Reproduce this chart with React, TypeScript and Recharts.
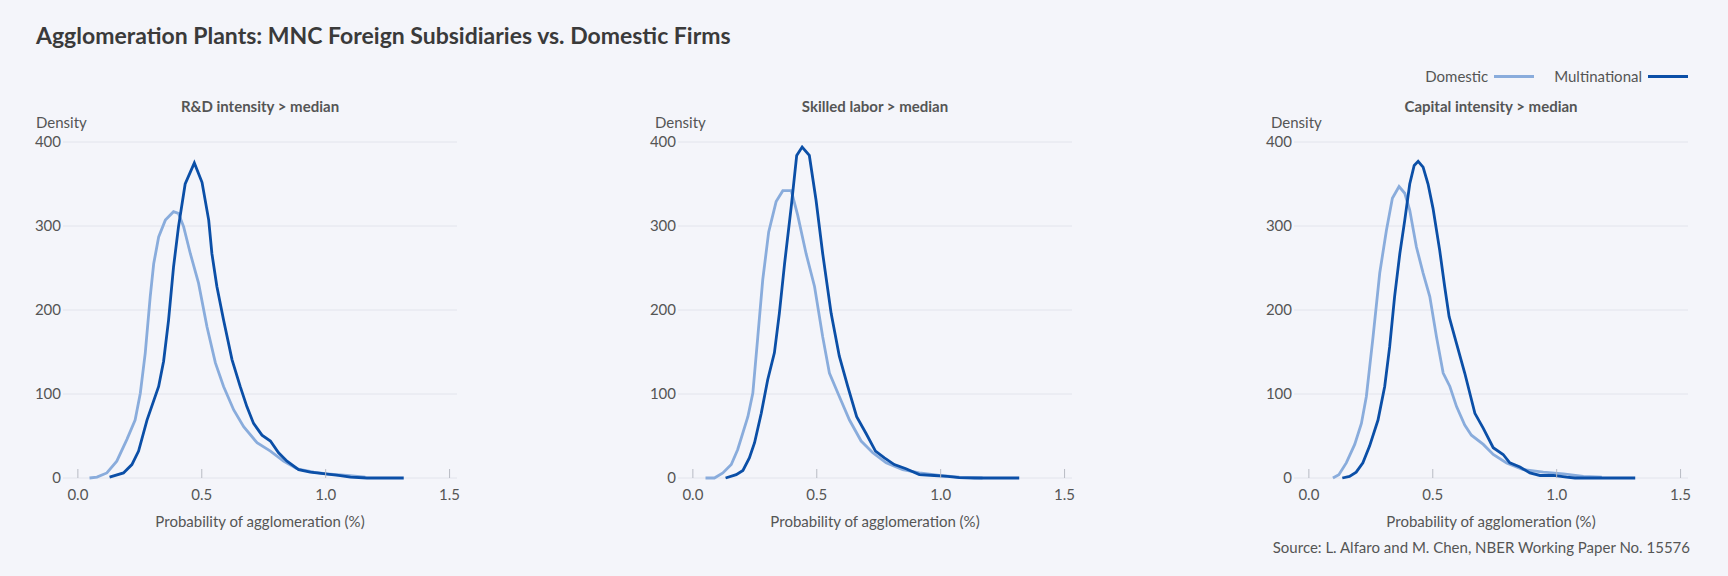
import React from "react";
import { LineChart, Line, XAxis, YAxis, CartesianGrid, Label } from "recharts";

type Pt = [number, number];

// kernel density estimates: [probability %, density]
const RD_DOMESTIC: Pt[] = [
  [0.047, 0], [0.077, 1], [0.117, 6], [0.157, 20], [0.198, 46], [0.231, 69],
  [0.252, 101], [0.272, 149], [0.292, 216], [0.306, 255], [0.326, 287], [0.353, 307],
  [0.386, 317], [0.406, 315], [0.427, 299], [0.454, 267], [0.487, 232], [0.521, 180],
  [0.555, 137], [0.588, 109], [0.629, 81], [0.669, 61], [0.723, 42], [0.777, 32],
  [0.83, 20], [0.884, 11], [0.952, 7], [1.005, 5], [1.086, 3], [1.16, 1],
];
const RD_MULTI: Pt[] = [
  [0.128, 1], [0.184, 6], [0.218, 16], [0.245, 32], [0.279, 69], [0.326, 109],
  [0.346, 139], [0.366, 188], [0.386, 251], [0.406, 299], [0.433, 350], [0.47, 375],
  [0.501, 352], [0.528, 307], [0.541, 267], [0.561, 228], [0.588, 188], [0.622, 141],
  [0.655, 109], [0.682, 85], [0.709, 65], [0.743, 51], [0.777, 44], [0.81, 30],
  [0.844, 20], [0.891, 10], [0.938, 7], [0.999, 5], [1.052, 3], [1.1, 1],
  [1.167, 0], [1.315, 0],
];
const SKILL_DOMESTIC: Pt[] = [
  [0.051, 0], [0.087, 0], [0.121, 6], [0.155, 16], [0.181, 34], [0.222, 73],
  [0.242, 101], [0.262, 168], [0.282, 236], [0.306, 293], [0.336, 329], [0.363, 342],
  [0.397, 342], [0.423, 313], [0.457, 267], [0.491, 228], [0.524, 168], [0.551, 125],
  [0.591, 97], [0.632, 69], [0.679, 44], [0.726, 30], [0.78, 18], [0.847, 10],
  [0.914, 6], [0.995, 3], [1.075, 1], [1.169, 0],
];
const SKILL_MULTI: Pt[] = [
  [0.132, 0], [0.175, 4], [0.202, 9], [0.228, 24], [0.249, 42], [0.276, 77],
  [0.302, 117], [0.329, 149], [0.349, 196], [0.37, 255], [0.397, 323], [0.419, 384],
  [0.441, 394], [0.47, 384], [0.497, 331], [0.524, 267], [0.558, 196], [0.591, 145],
  [0.625, 109], [0.661, 73], [0.699, 53], [0.737, 32], [0.773, 24], [0.813, 16],
  [0.86, 11], [0.914, 4], [0.974, 3], [1.028, 2], [1.075, 0.4], [1.136, 0],
  [1.183, 0], [1.317, 0],
];
const CAP_DOMESTIC: Pt[] = [
  [0.097, 0], [0.121, 4], [0.151, 18], [0.185, 40], [0.212, 65], [0.232, 97],
  [0.259, 168], [0.286, 244], [0.313, 295], [0.337, 333], [0.364, 347], [0.387, 339],
  [0.407, 319], [0.434, 275], [0.461, 244], [0.488, 216], [0.515, 168], [0.542, 125],
  [0.569, 109], [0.596, 85], [0.629, 63], [0.656, 51], [0.704, 40], [0.744, 28],
  [0.798, 18], [0.865, 10], [0.946, 7], [1.027, 5], [1.108, 2], [1.182, 1],
];
const CAP_MULTI: Pt[] = [
  [0.135, 0], [0.164, 2], [0.191, 7], [0.218, 18], [0.245, 38], [0.279, 69],
  [0.306, 109], [0.326, 156], [0.346, 216], [0.367, 267], [0.387, 307], [0.407, 350],
  [0.425, 372], [0.441, 377], [0.461, 370], [0.481, 350], [0.501, 321], [0.528, 271],
  [0.548, 228], [0.566, 192], [0.596, 160], [0.629, 125], [0.67, 77], [0.704, 59],
  [0.744, 36], [0.784, 28], [0.811, 18], [0.852, 13], [0.892, 6], [0.933, 3],
  [0.987, 3], [1.04, 1], [1.074, 0], [1.175, 0], [1.317, 0],
];

const PANEL_TITLES = ["R&D intensity > median", "Skilled labor > median", "Capital intensity > median"];
const PANEL_DOMESTIC = [RD_DOMESTIC, SKILL_DOMESTIC, CAP_DOMESTIC];
const PANEL_MULTI = [RD_MULTI, SKILL_MULTI, CAP_MULTI];

const X_TICKS = [0, 0.5, 1, 1.5];
const Y_TICKS = [0, 100, 200, 300, 400];

const FONT = "Lato, 'Noto Sans', sans-serif";
const BG = "#f4f5fa";
const TEXT = "#555";
const LIGHT = "#89acdc";
const DARK = "#0b4fa7";

// layout
const PANEL_LEFT = [0, 615, 1231];
const DENSITY_LEFT = [36, 655, 1271];
const Y_AXIS_W = 63;
const PLOT_W = 394;

const toRows = (pts: Pt[]) => pts.map(([x, y]) => ({ x, y }));

function Panel({ idx }: { idx: number }) {
  const left = PANEL_LEFT[idx];
  return (
    <>
      <div
        style={{
          position: "absolute",
          left: left + Y_AXIS_W,
          width: PLOT_W,
          top: 97,
          textAlign: "center",
          fontSize: 15,
          fontWeight: 700,
          color: TEXT,
        }}
      >
        {PANEL_TITLES[idx]}
      </div>
      <div style={{ position: "absolute", left: DENSITY_LEFT[idx], top: 113, fontSize: 15, color: TEXT }}>
        Density
      </div>
      <div style={{ position: "absolute", left, top: 130 }}>
        <LineChart
          width={Y_AXIS_W + PLOT_W + 5}
          height={406}
          margin={{ top: 12, right: 5, bottom: 0, left: 0 }}
        >
          <CartesianGrid vertical={false} stroke="#e2e4ec" />
          <XAxis
            type="number"
            dataKey="x"
            domain={[-0.06, 1.53]}
            ticks={X_TICKS}
            tickFormatter={(v: number) => v.toFixed(1)}
            axisLine={false}
            tickSize={-9}
            tickMargin={20}
            tickLine={{ stroke: "#b8bbc4" }}
            tick={{ fill: TEXT, fontSize: 15, fontFamily: FONT }}
            height={58}
            allowDataOverflow
          >
            <Label
              value="Probability of agglomeration (%)"
              position="insideBottom"
              offset={9}
              fill={TEXT}
              fontSize={15}
              fontFamily={FONT}
            />
          </XAxis>
          <YAxis
            type="number"
            domain={[0, 400]}
            ticks={Y_TICKS}
            width={Y_AXIS_W}
            axisLine={false}
            tickLine={false}
            tickSize={0}
            tickMargin={2}
            tick={{ fill: TEXT, fontSize: 15, fontFamily: FONT }}
          />
          <Line
            data={toRows(PANEL_DOMESTIC[idx])}
            dataKey="y"
            type="linear"
            stroke={LIGHT}
            strokeWidth={2.8}
            dot={false}
            isAnimationActive={false}
          />
          <Line
            data={toRows(PANEL_MULTI[idx])}
            dataKey="y"
            type="linear"
            stroke={DARK}
            strokeWidth={2.8}
            dot={false}
            isAnimationActive={false}
          />
        </LineChart>
      </div>
    </>
  );
}

export default function App() {
  return (
    <div
      style={{
        position: "absolute",
        left: 0,
        top: 0,
        width: 1728,
        height: 576,
        background: BG,
        fontFamily: FONT,
        overflow: "hidden",
      }}
    >
      <div style={{ position: "absolute", left: 36, top: 21, fontSize: 23, fontWeight: 700, color: "#3a3a3a" }}>
        Agglomeration Plants: MNC Foreign Subsidiaries vs. Domestic Firms
      </div>

      {/* legend */}
      <div
        style={{
          position: "absolute",
          right: 40,
          top: 67,
          display: "flex",
          alignItems: "center",
          fontSize: 15,
          color: TEXT,
        }}
      >
        <span>Domestic</span>
        <span style={{ width: 40, height: 3, background: LIGHT, marginLeft: 6 }} />
        <span style={{ marginLeft: 20 }}>Multinational</span>
        <span style={{ width: 40, height: 3, background: DARK, marginLeft: 6 }} />
      </div>

      {[0, 1, 2].map((i) => (
        <Panel key={i} idx={i} />
      ))}

      <div style={{ position: "absolute", right: 38, top: 538, fontSize: 15, color: TEXT }}>
        Source: L. Alfaro and M. Chen, NBER Working Paper No. 15576
      </div>
    </div>
  );
}
